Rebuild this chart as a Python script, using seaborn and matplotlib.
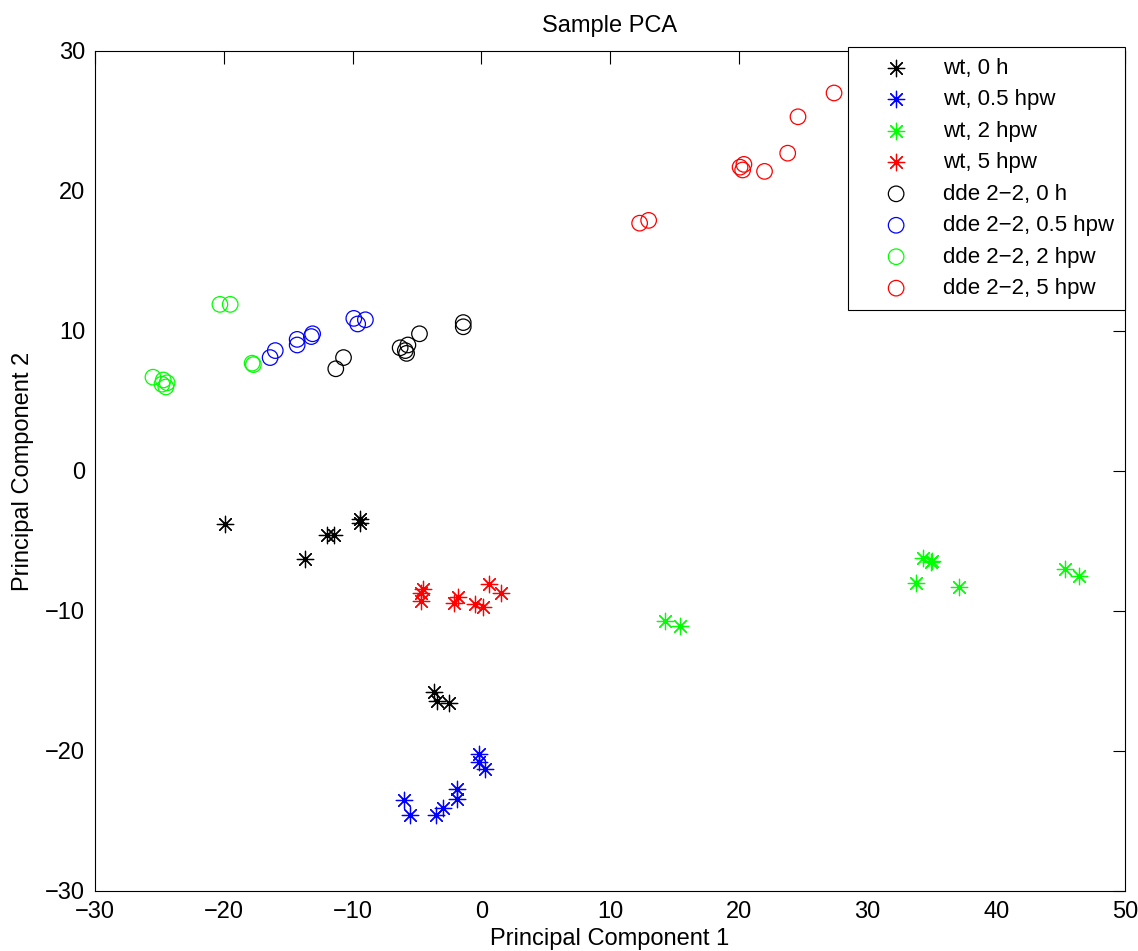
import numpy as np
import pandas as pd
import matplotlib
matplotlib.use('Agg')
import matplotlib.pyplot as plt
import seaborn as sns

# PCA coordinates
wt_0h_x = [-19.9, -13.7, -12.0, -11.4, -9.4, -9.4, -3.7, -3.4, -2.5]
wt_0h_y = [-3.8, -6.3, -4.6, -4.6, -3.4, -3.7, -15.8, -16.4, -16.6]

wt_05_x = [-0.2, -0.2, 0.3, -1.9, -1.9, -3.0, -3.5, -5.5, -6.0]
wt_05_y = [-20.2, -20.8, -21.3, -22.7, -23.4, -24.1, -24.6, -24.6, -23.5]

wt_2_x = [14.3, 15.4, 34.3, 35.0, 34.9, 33.8, 37.1, 45.3, 46.4]
wt_2_y = [-10.7, -11.1, -6.2, -6.4, -6.5, -8.0, -8.3, -7.0, -7.5]

wt_5_x = [-4.5, -4.7, -4.7, -2.1, -1.8, -0.5, 0.1, 0.6, 1.5]
wt_5_y = [-8.4, -8.7, -9.3, -9.4, -9.0, -9.5, -9.7, -8.1, -8.7]

dde_0h_x = [-11.3, -10.7, -6.3, -5.7, -5.9, -5.8, -4.8, -1.4, -1.4]
dde_0h_y = [7.3, 8.1, 8.8, 9.0, 8.6, 8.4, 9.8, 10.6, 10.3]

dde_05_x = [-16.4, -16.0, -14.3, -14.3, -13.2, -13.1, -9.9, -9.6, -9.0]
dde_05_y = [8.1, 8.6, 9.0, 9.4, 9.6, 9.8, 10.9, 10.5, 10.8]

dde_2_x = [-20.3, -19.5, -17.8, -17.7, -25.5, -24.7, -24.8, -24.5, -24.4]
dde_2_y = [11.9, 11.9, 7.7, 7.6, 6.7, 6.5, 6.2, 6.0, 6.3]

dde_5_x = [12.3, 13.0, 20.1, 20.3, 20.4, 22.0, 23.8, 24.6, 27.4]
dde_5_y = [17.7, 17.9, 21.7, 21.5, 21.9, 21.4, 22.7, 25.3, 27.0]

labels = ['wt, 0 h', 'wt, 0.5 hpw', 'wt, 2 hpw', 'wt, 5 hpw',
          'dde 2\u22122, 0 h', 'dde 2\u22122, 0.5 hpw', 'dde 2\u22122, 2 hpw', 'dde 2\u22122, 5 hpw']
xs = [wt_0h_x, wt_05_x, wt_2_x, wt_5_x, dde_0h_x, dde_05_x, dde_2_x, dde_5_x]
ys = [wt_0h_y, wt_05_y, wt_2_y, wt_5_y, dde_0h_y, dde_05_y, dde_2_y, dde_5_y]
colors = ['black', 'blue', '#00ff00', 'red'] * 2

rows = []
for lab, x, y in zip(labels, xs, ys):
    for a, b in zip(x, y):
        rows.append({'pc1': a, 'pc2': b, 'group': lab})
df = pd.DataFrame(rows)

sns.set_style('white')
plt.rcParams['font.family'] = ['Liberation Sans', 'DejaVu Sans']
plt.rcParams['text.color'] = 'black'
plt.rcParams['axes.labelcolor'] = 'black'
plt.rcParams['xtick.color'] = 'black'
plt.rcParams['ytick.color'] = 'black'

fig = plt.figure(figsize=(11.38, 9.51), dpi=100)
ax = fig.add_axes([0.0835, 0.0631, 0.9051, 0.8833])

for i, lab in enumerate(labels):
    sub = df[df['group'] == lab]
    if i < 4:
        sns.scatterplot(data=sub, x='pc1', y='pc2', ax=ax, marker=(8, 2, 0),
                        s=140, color=colors[i], linewidth=0.9, label=lab)
    else:
        sns.scatterplot(data=sub, x='pc1', y='pc2', ax=ax, marker='o',
                        s=125, facecolors='none', edgecolor=colors[i],
                        linewidth=0.9, label=lab)

ax.set_xlim(-30, 50)
ax.set_ylim(-30, 30)
ax.set_xticks(range(-30, 51, 10))
ax.set_yticks(range(-30, 31, 10))
ax.set_xticklabels([str(v).replace('-', '\u2212') for v in range(-30, 51, 10)])
ax.set_yticklabels([str(v).replace('-', '\u2212') for v in range(-30, 31, 10)])
ax.tick_params(direction='in', length=9, width=0.8, labelsize=17,
               top=True, right=True, pad=7)
for sp in ax.spines.values():
    sp.set_color('black')
    sp.set_linewidth(0.8)

ax.set_xlabel('Principal Component 1', fontsize=17, labelpad=4)
ax.set_ylabel('Principal Component 2', fontsize=17, labelpad=8)
ax.set_title('Sample PCA', fontsize=17, pad=14)

leg = ax.legend(loc='upper right', bbox_to_anchor=(1.0, 1.005), borderaxespad=0,
                fontsize=16, frameon=True, fancybox=False, framealpha=1,
                edgecolor='black', handletextpad=0.45, labelspacing=0.47,
                borderpad=0.5, handlelength=3.3)
leg.get_frame().set_linewidth(0.8)

fig.savefig('out.png', dpi=100)
